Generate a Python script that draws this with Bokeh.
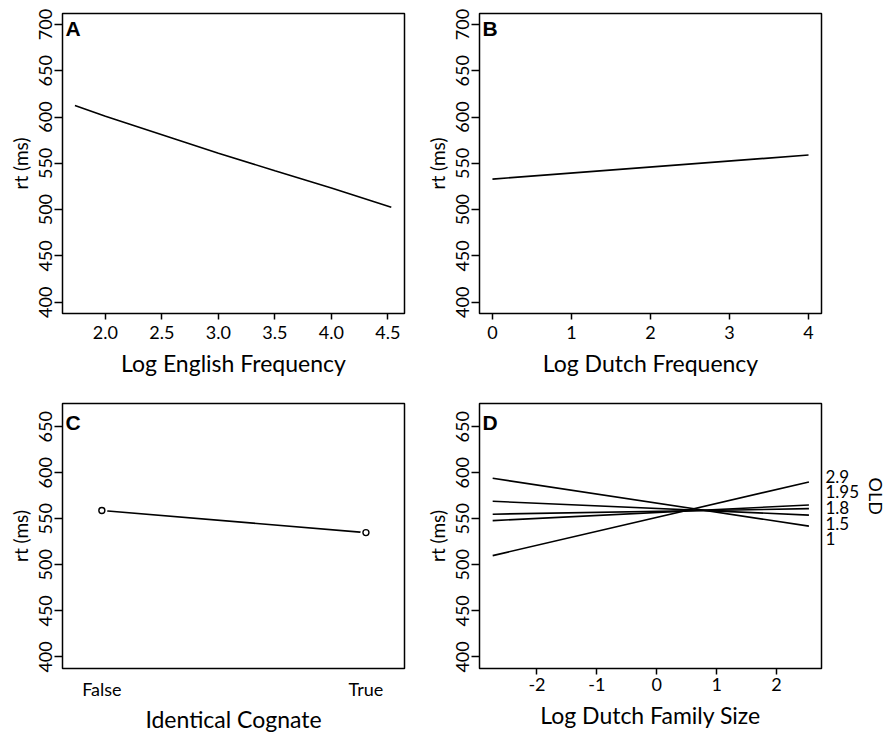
import numpy as np
from bokeh.plotting import figure
from bokeh.models import Range1d, FixedTicker, LinearAxis, Label, Title, PrintfTickFormatter
from bokeh.layouts import column, row
from bokeh.embed import file_html
from bokeh.resources import INLINE

# ---------------- data ----------------
# Panel A: Log English Frequency effect
eng_freq = [1.73, 2.0, 2.5, 3.0, 3.5, 4.0, 4.53]
rt_eng = [612.5, 601, 581, 561, 542, 523.5, 502.5]
eng_ticks = [2.0, 2.5, 3.0, 3.5, 4.0, 4.5]

# Panel B: Log Dutch Frequency effect
dutch_freq = [0, 4]
rt_dutch = [533, 559]
dutch_ticks = [0, 1, 2, 3, 4]

# Panel C: Identical Cognate effect
cognate_cats = ["False", "True"]
rt_cognate = [559, 535]

# Panel D: Log Dutch Family Size x OLD interaction
fam_size = [-2.74, 2.54]
fam_ticks = [-2, -1, 0, 1, 2]
old_levels = ["1", "1.5", "1.8", "1.95", "2.9"]
rt_old_start = [594, 569, 555, 548, 510]
rt_old_end = [542, 554, 561, 565, 590]

y_ticks_top = [400, 450, 500, 550, 600, 650, 700]
y_ticks_bottom = [400, 450, 500, 550, 600, 650]
panel_letters = ["A", "B", "C", "D"]

FONT = "Lato"
LETTER_FONT = "Liberation Sans"


def make_fig(xr, yr, yticks, width, height, bl, br, bt, bb, xlabel, letter, letter_dy):
    p = figure(width=width, height=height,
               x_range=Range1d(*xr), y_range=Range1d(*yr),
               output_backend="svg", toolbar_location=None,
               min_border_left=bl, min_border_right=br,
               min_border_top=bt, min_border_bottom=bb)
    p.grid.visible = False
    p.outline_line_color = "black"
    p.outline_line_width = 1.5
    p.background_fill_color = "white"
    p.border_fill_color = "white"
    for ax in (p.xaxis[0], p.yaxis[0]):
        ax.axis_line_color = None
        ax.major_tick_line_color = "black"
        ax.major_tick_line_width = 1.5
        ax.minor_tick_line_color = None
        ax.major_tick_in = 0
        ax.major_label_text_font = FONT
        ax.major_label_text_font_size = "18px"
        ax.major_label_text_color = "black"
        ax.axis_label_text_font = FONT
        ax.axis_label_text_font_style = "normal"
        ax.axis_label_text_color = "black"
    yax = p.yaxis[0]
    yax.ticker = FixedTicker(ticks=yticks)
    yax.major_tick_out = 8
    yax.major_label_orientation = "vertical"
    yax.major_label_standoff = 2
    yax.axis_label = "rt (ms)"
    yax.axis_label_text_font_size = "19px"
    yax.axis_label_standoff = 5
    xax = p.xaxis[0]
    xax.major_tick_out = 6
    xax.major_label_standoff = 6
    xax.axis_label = xlabel
    xax.axis_label_text_font_size = "23px"
    xax.axis_label_standoff = 7
    p.add_layout(Label(x=xr[0], y=yr[1], x_offset=3, y_offset=letter_dy, text=letter,
                       text_baseline="top", text_align="left",
                       text_font=LETTER_FONT, text_font_style="bold",
                       text_font_size="21px", text_color="black"))
    return p


LW = 1.6
W_LEFT, W_RIGHT = 412, 483
H_TOP, H_BOT = 389, 346

# Panel A
pA = make_fig((1.62, 4.647), (387.8, 711.9), y_ticks_top, W_LEFT, H_TOP, 62, 8, 13, 76,
              "Log English Frequency", panel_letters[0], -3)
pA.xaxis[0].ticker = FixedTicker(ticks=eng_ticks)
pA.xaxis[0].formatter = PrintfTickFormatter(format="%.1f")
pA.line(eng_freq, rt_eng, line_color="black", line_width=LW)

# Panel B
pB = make_fig((-0.164, 4.164), (387.8, 711.9), y_ticks_top, W_RIGHT, H_TOP, 67, 74, 13, 76,
              "Log Dutch Frequency", panel_letters[1], -3)
pB.xaxis[0].ticker = FixedTicker(ticks=dutch_ticks)
pB.xaxis[0].formatter = PrintfTickFormatter(format="%d")
pB.line(dutch_freq, rt_dutch, line_color="black", line_width=LW)

# Panel C
cat_pos = list(range(len(cognate_cats)))
pC = make_fig((-0.149, 1.146), (387.4, 675.2), y_ticks_bottom, W_LEFT, H_BOT, 62, 8, 14, 66,
              "Identical Cognate", panel_letters[2], -7)
pC.xaxis[0].ticker = FixedTicker(ticks=cat_pos)
pC.xaxis[0].major_label_overrides = {i: c for i, c in zip(cat_pos, cognate_cats)}
pC.xaxis[0].major_tick_out = 0
pC.xaxis[0].major_label_standoff = 9
pC.xaxis[0].axis_label_standoff = 2
pC.line(cat_pos, rt_cognate, line_color="black", line_width=LW)
pC.scatter(cat_pos, rt_cognate, size=11, fill_color="white", line_color=None)
pC.scatter(cat_pos, rt_cognate, size=6, fill_color="white", line_color="black", line_width=1.4)

# Panel D
xr_d = (-2.96, 2.75)
pD = make_fig(xr_d, (387.4, 675.2), y_ticks_bottom, W_RIGHT, H_BOT, 67, 74, 13, 66,
              "Log Dutch Family Size", panel_letters[3], -7)
pD.xaxis[0].ticker = FixedTicker(ticks=fam_ticks)
pD.xaxis[0].formatter = PrintfTickFormatter(format="%d")
pD.xaxis[0].major_label_standoff = 3
pD.xaxis[0].axis_label_standoff = 7
for s, e in zip(rt_old_start, rt_old_end):
    pD.line(fam_size, [s, e], line_color="black", line_width=LW)


def spread(vals, gap):
    """Spread label positions so that they are at least `gap` apart, keeping cluster means."""
    order = np.argsort(vals)
    v = [float(vals[i]) for i in order]
    clusters = [[x] for x in v]
    changed = True
    while changed:
        changed = False
        for i in range(len(clusters) - 1):
            a, b = clusters[i], clusters[i + 1]
            ta = np.mean(a) + (len(a) - 1) / 2 * gap
            bb_ = np.mean(b) - (len(b) - 1) / 2 * gap
            if bb_ - ta < gap:
                clusters[i] = a + b
                del clusters[i + 1]
                changed = True
                break
    pos = []
    for c in clusters:
        m = np.mean(c)
        n = len(c)
        pos += [m + (k - (n - 1) / 2) * gap for k in range(n)]
    out = [0.0] * len(vals)
    for rank, i in enumerate(order):
        out[i] = round(pos[rank], 2)
    return out


label_pos = spread(rt_old_end, 17.0)
rax = LinearAxis(ticker=FixedTicker(ticks=label_pos),
                 major_label_overrides={lp: lv for lp, lv in zip(label_pos, old_levels)})
rax.axis_line_color = None
rax.major_tick_line_color = None
rax.major_tick_out = 0
rax.major_tick_in = 0
rax.minor_tick_line_color = None
rax.major_label_standoff = 4
rax.major_label_text_font = FONT
rax.major_label_text_font_size = "17px"
rax.major_label_text_color = "black"
pD.add_layout(rax, "right")

# legend title "OLD", rotated, placed beside the upper labels
old_title = Title(text="OLD", align="left", offset=74, standoff=5,
                  text_font=FONT, text_font_size="18px", text_font_style="normal",
                  text_color="black")
pD.add_layout(old_title, "right")

layout = column(row(pA, pB), row(pC, pD))

with open("out.html", "w") as f:
    f.write(file_html(layout, INLINE))
